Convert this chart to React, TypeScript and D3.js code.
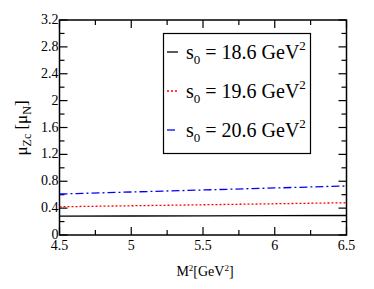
import React, { useRef, useEffect } from 'react';
import * as d3 from 'd3';

// M^2 [GeV^2] sample points
const m2 = [4.5, 5.0, 5.5, 6.0, 6.5];
// mu_Zc [mu_N] for each s0
const s186 = [0.28, 0.283, 0.286, 0.288, 0.29];
const s196 = [0.42, 0.435, 0.45, 0.465, 0.48];
const s206 = [0.61, 0.64, 0.67, 0.70, 0.73];
const legendLabels = ['18.6', '19.6', '20.6'];
const xTicks = [4.5, 5, 5.5, 6, 6.5];
const yTicks = [0, 0.4, 0.8, 1.2, 1.6, 2, 2.4, 2.8, 3.2];

const App = () => {
  const ref = useRef<SVGSVGElement>(null);

  useEffect(() => {
    const svg = d3.select(ref.current);
    svg.selectAll('*').remove();

    const left = 59.5, right = 346.5, top = 20, bottom = 235;
    const x = d3.scaleLinear().domain([4.5, 6.5]).range([left, right]);
    const y = d3.scaleLinear().domain([0, 3.2]).range([bottom, top]);
    const font = "'Liberation Serif', 'Times New Roman', serif";

    // frame
    svg.append('rect')
      .attr('x', left).attr('y', top)
      .attr('width', right - left).attr('height', bottom - top)
      .attr('fill', 'none').attr('stroke', '#000').attr('stroke-width', 1.5);

    const g = svg.append('g').attr('stroke', '#000').attr('stroke-width', 1.2);
    // x ticks (major + minor, inward, mirrored)
    d3.range(4.5, 6.51, 0.25).forEach((v, i) => {
      const len = i % 2 === 0 ? 8 : 5;
      g.append('line').attr('x1', x(v)).attr('x2', x(v)).attr('y1', bottom).attr('y2', bottom - len);
      g.append('line').attr('x1', x(v)).attr('x2', x(v)).attr('y1', top).attr('y2', top + len);
    });
    d3.range(0, 3.21, 0.2).forEach((v, i) => {
      const len = i % 2 === 0 ? 8 : 5;
      g.append('line').attr('y1', y(v)).attr('y2', y(v)).attr('x1', left).attr('x2', left + len);
      g.append('line').attr('y1', y(v)).attr('y2', y(v)).attr('x1', right).attr('x2', right - len);
    });

    svg.append('g').selectAll('text').data(xTicks).enter().append('text')
      .attr('x', d => x(d)).attr('y', bottom + 15)
      .attr('text-anchor', 'middle').style('font-family', font).attr('font-size', 14)
      .text(d => String(d));
    svg.append('g').selectAll('text').data(yTicks).enter().append('text')
      .attr('x', left - 1).attr('y', d => y(d) + 4)
      .attr('text-anchor', 'end').style('font-family', font).attr('font-size', 14)
      .text(d => String(d));

    // axis titles
    const xl = svg.append('text').attr('x', 205).attr('y', 276)
      .attr('text-anchor', 'middle').style('font-family', font).attr('font-size', 14);
    xl.append('tspan').text('M');
    xl.append('tspan').attr('dy', -5).attr('font-size', 9).text('2');
    xl.append('tspan').attr('dy', 5).text('[GeV');
    xl.append('tspan').attr('dy', -5).attr('font-size', 9).text('2');
    xl.append('tspan').attr('dy', 5).text(']');

    const yl = svg.append('text').attr('transform', 'translate(27,128) rotate(-90)')
      .attr('text-anchor', 'middle').style('font-family', font).attr('font-size', 17);
    yl.append('tspan').text('μ');
    yl.append('tspan').attr('dy', 4).attr('font-size', 12).text('Zc');
    yl.append('tspan').attr('dy', -4).text(' [μ');
    yl.append('tspan').attr('dy', 4).attr('font-size', 12).text('N');
    yl.append('tspan').attr('dy', -4).text(']');

    const series = [
      { v: s186, color: '#000', dash: null },
      { v: s196, color: '#ff0000', dash: '2,2' },
      { v: s206, color: '#0000ff', dash: '8,3,2,3' },
    ];
    const line = d3.line<number>().x((_, i) => x(m2[i])).y(d => y(d));
    series.forEach(s => {
      svg.append('path').attr('d', line(s.v))
        .attr('fill', 'none').attr('stroke', s.color).attr('stroke-width', 1.3)
        .attr('stroke-dasharray', s.dash);
    });

    // legend
    svg.append('rect').attr('x', 163.5).attr('y', 33.5).attr('width', 147).attr('height', 120)
      .attr('fill', '#fff').attr('stroke', '#000').attr('stroke-width', 1.2);
    series.forEach((s, i) => {
      const cy = 52 + i * 39;
      svg.append('line').attr('x1', 167).attr('x2', 178).attr('y1', cy).attr('y2', cy)
        .attr('stroke', s.color).attr('stroke-width', 1.3).attr('stroke-dasharray', s.dash);
      const t = svg.append('text').attr('x', 186).attr('y', cy + 7)
        .style('font-family', font).attr('font-size', 20);
      t.append('tspan').text('s');
      t.append('tspan').attr('dy', 5).attr('font-size', 13).text('0');
      t.append('tspan').attr('dy', -5).text(` = ${legendLabels[i]} GeV`);
      t.append('tspan').attr('dy', -9).attr('font-size', 13).text('2');
    });
  }, []);

  return <svg ref={ref} width={374} height={289} style={{ position: 'absolute', left: 0, top: 0 }} />;
};

export default App;
